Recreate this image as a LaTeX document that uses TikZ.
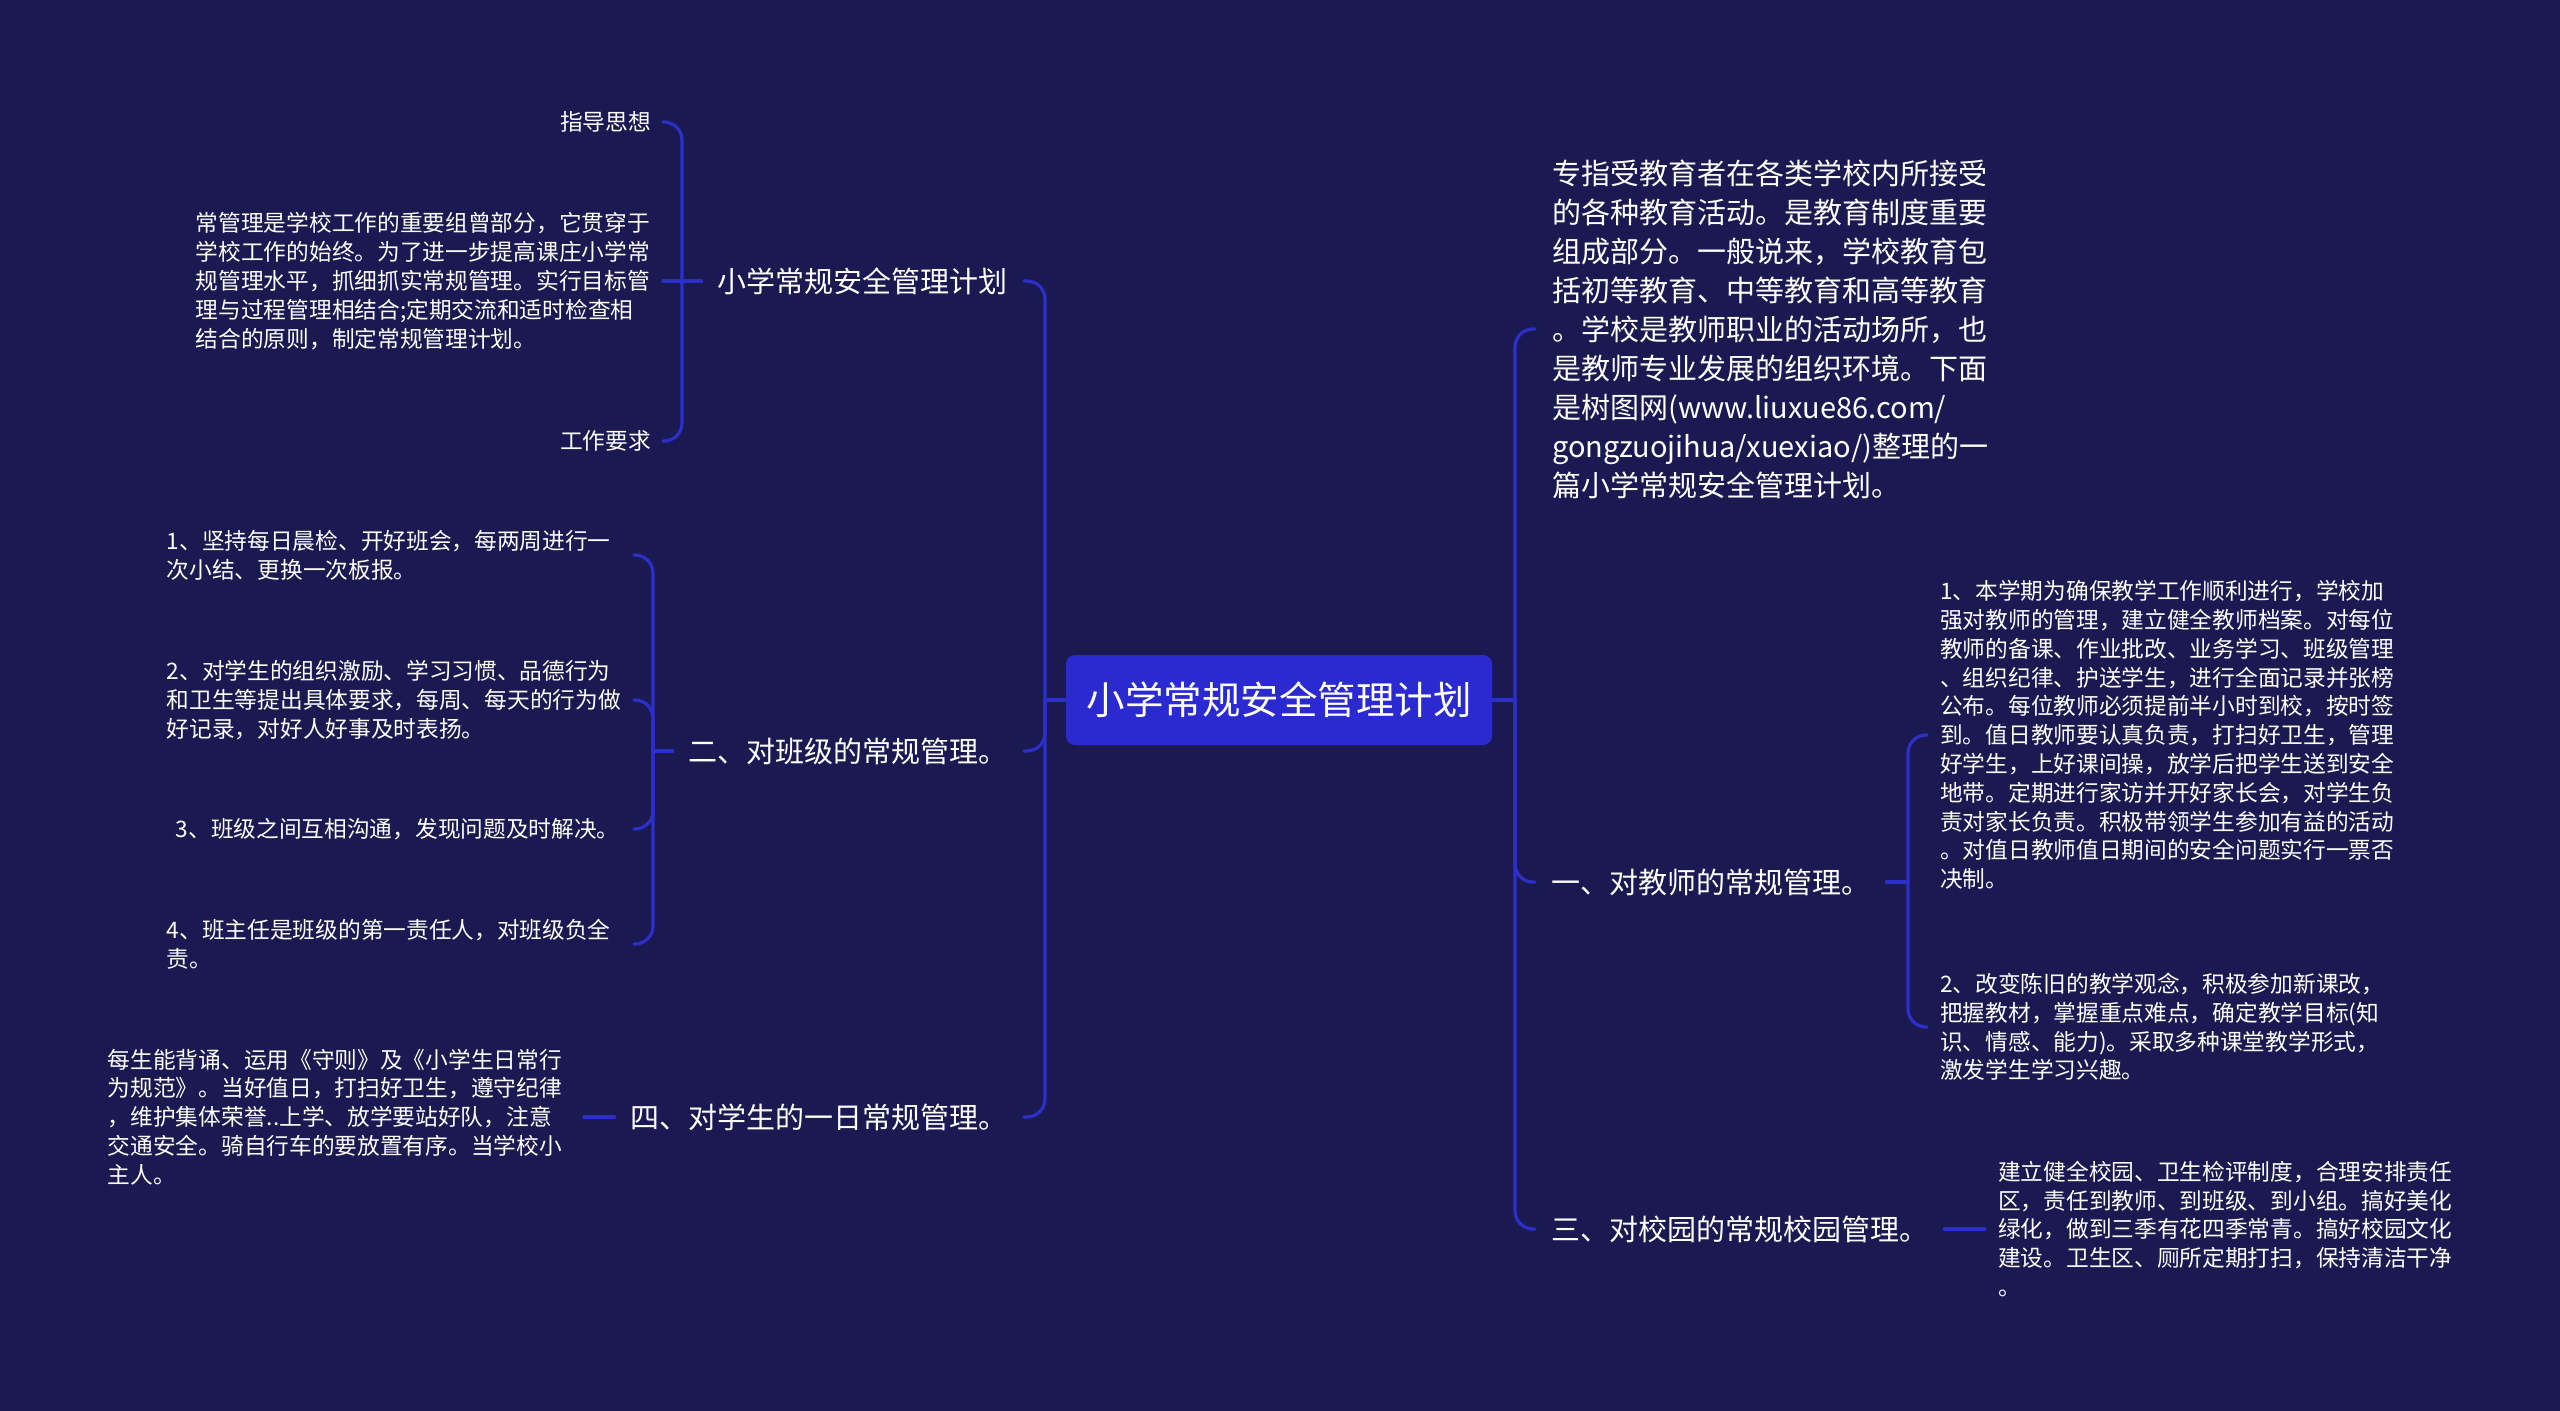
\documentclass[tikz,border=0pt]{standalone}
\usepackage{fontspec}
\setmainfont{Noto Sans CJK SC}
\usepackage{xcolor}
\usetikzlibrary{positioning, calc}

\definecolor{bgnavy}{RGB}{27,25,82}
\definecolor{linkblue}{RGB}{44,47,200}
\definecolor{rootblue}{RGB}{42,42,208}

\begin{document}
\begin{tikzpicture}[x=1pt, y=-1pt,
    link/.style={draw=linkblue, line width=3.2pt, rounded corners=18pt, line cap=round},
    rootbox/.style={fill=rootblue, rounded corners=9pt, minimum width=426pt, minimum height=90pt,
        text=white, font=\fontsize{38.5}{46}\selectfont},
    major/.style={text=white, inner xsep=16pt, font=\fontsize{29}{36}\selectfont},
    minor/.style={text=white, inner xsep=12pt, font=\fontsize{22.7}{28.8}\selectfont},
    para/.style={minor, text width=455pt, align=left},
    intro/.style={text=white, inner xsep=17pt, text width=490pt, align=left,
        font=\fontsize{29}{39}\selectfont}]
    \fill[bgnavy] (0,0) rectangle (2560,1411);
    \useasboundingbox (0,0) rectangle (2560,1411);

    \node[rootbox] (root) at (1279,700) {小学常规安全管理计划};
    \coordinate (jl) at (1045,700);
    \coordinate (jr) at (1515,700);

    % left side
    \node[major, anchor=east] (plan) at (1024,281) {小学常规安全管理计划};
    \node[major, anchor=east] (cls) at (1024,751) {二、对班级的常规管理。};
    \node[major, anchor=east] (day) at (1024,1117) {四、对学生的一日常规管理。};

    \coordinate (jp) at (682,281);
    \node[minor, anchor=east] (guide) at (663,122) {指导思想};
    \node[para, anchor=east] (routine) at (663,281) {常管理是学校工作的重要组曾部分，它贯穿于\\
        学校工作的始终。为了进一步提高课庄小学常\\
        规管理水平，抓细抓实常规管理。实行目标管\\
        理与过程管理相结合;定期交流和适时检查相\\
        结合的原则，制定常规管理计划。};
    \node[minor, anchor=east] (req) at (663,441) {工作要求};

    \coordinate (jc) at (653,751);
    \node[para, anchor=east] (c1) at (634,555) {1、坚持每日晨检、开好班会，每两周进行一\\
        次小结、更换一次板报。};
    \node[para, anchor=east] (c2) at (634,700) {2、对学生的组织激励、学习习惯、品德行为\\
        和卫生等提出具体要求，每周、每天的行为做\\
        好记录，对好人好事及时表扬。};
    \node[para, anchor=east] (c3) at (634,829) {\hspace*{9pt}3、班级之间互相沟通，发现问题及时解决。};
    \node[para, anchor=east] (c4) at (634,944) {4、班主任是班级的第一责任人，对班级负全\\
        责。};

    \node[para, anchor=east, inner xsep=21pt] (daily) at (584,1117) {每生能背诵、运用《守则》及《小学生日常行\\
        为规范》。当好值日，打扫好卫生，遵守纪律\\
        ，维护集体荣誉..上学、放学要站好队，注意\\
        交通安全。骑自行车的要放置有序。当学校小\\
        主人。};

    % right side
    \node[intro, anchor=west] (intro) at (1535,329) {专指受教育者在各类学校内所接受\\
        的各种教育活动。是教育制度重要\\
        组成部分。一般说来，学校教育包\\
        括初等教育、中等教育和高等教育\\
        。学校是教师职业的活动场所，也\\
        是教师专业发展的组织环境。下面\\
        是树图网(www.liuxue86.com/\\
        gongzuojihua/xuexiao/)整理的一\\
        篇小学常规安全管理计划。};
    \node[major, anchor=west] (teach) at (1535,882) {一、对教师的常规管理。};
    \node[major, anchor=west] (campus) at (1535,1229) {三、对校园的常规校园管理。};

    \coordinate (jt) at (1908,882);
    \node[para, anchor=west, inner xsep=13pt] (t1) at (1927,735) {1、本学期为确保教学工作顺利进行，学校加\\
        强对教师的管理，建立健全教师档案。对每位\\
        教师的备课、作业批改、业务学习、班级管理\\
        、组织纪律、护送学生，进行全面记录并张榜\\
        公布。每位教师必须提前半小时到校，按时签\\
        到。值日教师要认真负责，打扫好卫生，管理\\
        好学生，上好课间操，放学后把学生送到安全\\
        地带。定期进行家访并开好家长会，对学生负\\
        责对家长负责。积极带领学生参加有益的活动\\
        。对值日教师值日期间的安全问题实行一票否\\
        决制。};
    \node[para, anchor=west, inner xsep=13pt] (t2) at (1927,1027) {2、改变陈旧的教学观念，积极参加新课改，\\
        把握教材，掌握重点难点，确定教学目标(知\\
        识、情感、能力)。采取多种课堂教学形式，\\
        激发学生学习兴趣。};
    \node[para, anchor=west, inner xsep=13pt] (camp) at (1985,1229) {建立健全校园、卫生检评制度，合理安排责任\\
        区，责任到教师、到班级、到小组。搞好美化\\
        绿化，做到三季有花四季常青。搞好校园文化\\
        建设。卫生区、厕所定期打扫，保持清洁干净\\
        。};

    % connectors
    \draw[link] (root.west) -- (jl);
    \draw[link] (jl) |- (plan.east);
    \draw[link] (jl) |- (cls.east);
    \draw[link] (jl) |- (day.east);
    \draw[link] (plan.west) -- (jp);
    \draw[link] (jp) |- (guide.east);
    \draw[link] (jp) -- (routine.east);
    \draw[link] (jp) |- (req.east);
    \draw[link] (cls.west) -- (jc);
    \draw[link] (jc) |- (c1.east);
    \draw[link] (jc) |- (c2.east);
    \draw[link] (jc) |- (c3.east);
    \draw[link] (jc) |- (c4.east);
    \draw[link] (day.west) -- (daily.east);
    \draw[link] (root.east) -- (jr);
    \draw[link] (jr) |- (intro.west);
    \draw[link] (jr) |- (teach.west);
    \draw[link] (jr) |- (campus.west);
    \draw[link] (teach.east) -- (jt);
    \draw[link] (jt) |- (t1.west);
    \draw[link] (jt) |- (t2.west);
    \draw[link] (campus.east) -- (camp.west);
\end{tikzpicture}
\end{document}
